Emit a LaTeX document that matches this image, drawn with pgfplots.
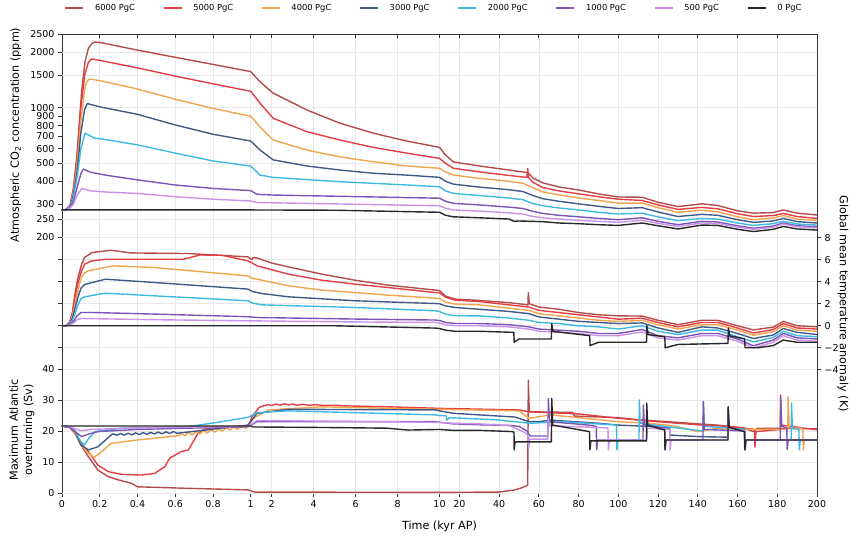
\documentclass[border=0pt]{standalone}
\usepackage{fontspec}
\setmainfont{DejaVu Sans}
\usepackage{pgfplots}
\pgfplotsset{compat=1.18}

\definecolor{c6000}{RGB}{180,76,76}
\definecolor{c5000}{RGB}{228,62,68}
\definecolor{c4000}{RGB}{240,165,78}
\definecolor{c3000}{RGB}{66,90,135}
\definecolor{c2000}{RGB}{62,186,226}
\definecolor{c1000}{RGB}{122,84,184}
\definecolor{c500}{RGB}{200,146,230}
\definecolor{c0}{RGB}{40,40,40}
\definecolor{spine}{RGB}{50,50,50}
\definecolor{gridc}{RGB}{232,232,232}

\pgfplotsset{
  s6000/.style={color=c6000},
  s5000/.style={color=c5000},
  s4000/.style={color=c4000},
  s3000/.style={color=c3000},
  s2000/.style={color=c2000},
  s1000/.style={color=c1000},
  s500/.style={color=c500},
  s0/.style={color=c0},
  panel/.style={
    scale only axis, width=755pt, xmin=0, xmax=4,
    hide x axis, clip=false,
    x filter/.expression={min(x,1)+(min(max(x,1),10)-1)/9+(max(x,10)-10)/95},
    axis line style={draw=spine, line width=0.8pt},
    every tick/.style={draw=spine, line width=0.8pt},
    major tick length=4pt, tick align=outside,
    yticklabel style={font=\fontsize{9.5}{11}\selectfont},
    grid style={draw=gridc, line width=0.6pt},
    every axis plot/.append style={line width=1.4pt, line join=round, line cap=round},
  },
}

\begin{document}
\begin{tikzpicture}
\path[use as bounding box] (0,0) rectangle (852pt,537pt);

% frame, x ticks, vertical grid, legend
\begin{axis}[
  at={(62pt,44pt)}, scale only axis, width=755pt, height=459pt,
  xmin=0, xmax=4, ymin=0, ymax=1, ytick=\empty,
  xtick={0,0.2,0.4,0.6,0.8,1,1.11111,1.33333,1.55556,1.77778,2,2.10526,2.31579,2.52632,2.73684,2.94737,3.15789,3.36842,3.57895,3.78947,4},
  xticklabels={0,0.2,0.4,0.6,0.8,1,2,4,6,8,10,20,40,60,80,100,120,140,160,180,200},
  xtick pos=bottom, tick align=outside, major tick length=4pt,
  xticklabel style={font=\fontsize{9.5}{11}\selectfont},
  axis line style={draw=spine, line width=0.8pt},
  every tick/.style={draw=spine, line width=0.8pt},
  xmajorgrids, grid style={draw=gridc, line width=0.6pt},
  legend columns=8,
  legend image code/.code={\draw[#1, line width=1.4pt] (0pt,0pt) -- (18pt,0pt);},
  legend style={at={(0.4927,1.0566)}, anchor=center, draw=none, fill=none,
    font=\fontsize{8.3}{10}\selectfont,
    /tikz/every even column/.append style={column sep=26pt},
    /tikz/every odd column/.append style={column sep=9pt}},
]
\addlegendimage{s6000}\addlegendentry{6000 PgC}
\addlegendimage{s5000}\addlegendentry{5000 PgC}
\addlegendimage{s4000}\addlegendentry{4000 PgC}
\addlegendimage{s3000}\addlegendentry{3000 PgC}
\addlegendimage{s2000}\addlegendentry{2000 PgC}
\addlegendimage{s1000}\addlegendentry{1000 PgC}
\addlegendimage{s500}\addlegendentry{500 PgC}
\addlegendimage{s0}\addlegendentry{0 PgC}
\end{axis}

% inward ticks on top spine
\begin{axis}[
  at={(62pt,44pt)}, scale only axis, width=755pt, height=459pt,
  xmin=0, xmax=4, ymin=0, ymax=1, ytick=\empty,
  xtick={0,0.2,0.4,0.6,0.8,1,1.11111,1.33333,1.55556,1.77778,2,2.10526,2.31579,2.52632,2.73684,2.94737,3.15789,3.36842,3.57895,3.78947,4},
  xticklabels={}, xtick pos=top, tick align=inside, major tick length=4pt,
  axis line style={draw=spine, line width=0.8pt},
  every tick/.style={draw=spine, line width=0.8pt},
]
\end{axis}

% ---------- CO2 ----------
\begin{axis}[panel, at={(62pt,300pt)}, height=203pt,
  ymode=log, ymin=200, ymax=2500, yminorticks=false,
  ytick={200,250,300,400,500,600,700,800,900,1000,1500,2000,2500},
  yticklabels={200,250,300,400,500,600,700,800,900,1000,1500,2000,2500},
  ytick pos=left,
  extra y ticks={250,500,1000,1500,2000}, extra y tick labels={},
  extra y tick style={grid=major},
]
\addplot[s6000] coordinates {(0,280) (0.02,281) (0.043,298) (0.06,366) (0.078,535) (0.104,1220) (0.122,1776) (0.14,2091) (0.16,2230) (0.175,2262) (0.2,2250) (0.4,2046) (0.6,1870) (0.8,1712) (1,1566) (1.44,1380) (2.07,1198) (3.67,972) (5.25,824) (6.84,728) (8.43,660) (10,610) (13,555) (17,509) (30,484) (45,460) (52,449) (54.5,445) (57,417) (62,392) (70,373) (80,359) (90,342) (100,329) (112,328) (120,308) (130,292) (142,302) (150,296) (160,277) (168,269) (178,271) (183,280) (190,269) (200,263)};
\addplot[s5000] coordinates {(0,280) (0.02,281) (0.043,296) (0.06,355) (0.078,500) (0.1,1000) (0.12,1500) (0.14,1760) (0.157,1834) (0.2,1800) (0.4,1640) (0.6,1480) (0.8,1345) (1,1225) (1.44,1057) (2.07,876) (3.67,742) (5.25,668) (6.84,610) (8.43,568) (10,532) (13,500) (17,470) (30,450) (45,430) (54,420) (54.4,470) (54.8,420) (57,395) (62,370) (70,355) (80,342) (90,330) (100,320) (112,315) (120,298) (130,282) (142,289) (150,284) (160,267) (168,258) (178,261) (183,268) (190,258) (200,252)};
\addplot[s4000] coordinates {(0,280) (0.02,281) (0.043,294) (0.06,345) (0.078,470) (0.1,850) (0.12,1250) (0.13,1380) (0.145,1428) (0.2,1400) (0.4,1260) (0.6,1110) (0.8,990) (1,898) (1.44,787) (2.07,668) (3.67,590) (5.25,542) (6.84,510) (8.43,484) (10,470) (13,450) (17,432) (30,415) (45,400) (52,390) (57,370) (62,350) (70,338) (80,325) (90,315) (100,305) (112,305) (120,288) (130,272) (142,279) (150,274) (160,257) (168,248) (178,253) (183,261) (190,250) (200,246)};
\addplot[s3000] coordinates {(0,280) (0.02,281) (0.043,292) (0.06,335) (0.08,450) (0.1,730) (0.12,980) (0.134,1052) (0.2,1010) (0.4,920) (0.6,806) (0.8,718) (1,660) (1.44,590) (2.07,522) (3.67,484) (5.25,460) (6.84,442) (8.43,432) (10,420) (13,400) (17,386) (30,372) (45,360) (52,352) (57,335) (62,322) (70,312) (80,302) (90,293) (100,285) (112,288) (120,273) (130,258) (142,265) (150,262) (160,248) (168,240) (178,244) (183,252) (190,242) (200,238)};
\addplot[s2000] coordinates {(0,280) (0.02,281) (0.043,290) (0.06,325) (0.08,420) (0.1,600) (0.122,728) (0.175,682) (0.2,680) (0.4,629) (0.6,568) (0.8,515) (1,483) (1.44,432) (2.07,420) (5.25,398) (8.43,382) (10,374) (13,355) (17,344) (30,335) (45,325) (52,318) (57,303) (62,295) (70,287) (80,280) (90,272) (100,266) (112,269) (120,257) (130,245) (142,252) (150,250) (160,238) (168,231) (178,236) (183,243) (190,235) (200,232)};
\addplot[s1000] coordinates {(0,280) (0.02,281) (0.04,287) (0.06,310) (0.08,370) (0.1,440) (0.113,466) (0.15,448) (0.228,432) (0.4,407) (0.6,382) (0.8,366) (1,356) (1.3,340) (2.07,337) (10,324) (13,312) (17,304) (30,298) (45,290) (52,285) (57,275) (62,268) (70,262) (80,257) (90,252) (100,248) (112,254) (120,243) (130,233) (142,243) (150,241) (160,230) (168,223) (178,229) (183,238) (190,230) (200,227)};
\addplot[s500] coordinates {(0,280) (0.02,281) (0.04,285) (0.06,300) (0.08,335) (0.1,360) (0.108,365) (0.15,355) (0.25,349) (0.4,344) (0.6,330) (0.8,320) (1,313) (1.3,307) (2.07,306) (10,295) (13,286) (17,280) (30,276) (45,270) (52,266) (57,258) (62,254) (70,250) (80,246) (90,243) (100,240) (112,246) (120,237) (130,228) (142,238) (150,237) (160,226) (168,220) (178,226) (183,235) (190,227) (200,224)};
\addplot[s0] coordinates {(0,280) (1,280) (5,279) (10,272) (13,262) (17,257) (30,254) (45,250) (47.5,243) (50,244) (62,242) (70,238) (80,236) (90,233) (100,231) (112,238) (120,230) (130,221) (142,232) (150,231) (160,220) (168,214) (178,220) (183,228) (190,221) (200,218)};
\end{axis}

% ---------- temperature ----------
\begin{axis}[panel, at={(62pt,167.2pt)}, height=132.1pt,
  ymin=-4, ymax=8,
  ytick={-4,-2,0,2,4,6,8},
  yticklabels={−4,−2,0,2,4,6,8},
  yticklabel pos=right, ytick pos=both,
  ymajorgrids,
]
\addplot[s6000] coordinates {(0,0) (0.02,0) (0.04,0.3) (0.055,1.2) (0.069,2.9) (0.085,4.4) (0.104,5.6) (0.12,6.2) (0.14,6.45) (0.16,6.65) (0.26,6.86) (0.32,6.72) (0.36,6.62) (0.67,6.56) (0.985,6.26) (1.05,6.0) (1.12,6.2) (1.3,6.15) (2,5.7) (2.79,5.35) (4.38,4.69) (5.97,4.14) (7.56,3.69) (9.8,3.24) (10,3.2) (13,2.7) (17.8,2.42) (30,2.3) (45,2.1) (54.5,1.9) (54.7,3.0) (55.2,2.0) (60,1.7) (70,1.5) (80,1.2) (90,1.0) (100,0.9) (112,0.88) (120,0.5) (130,0.1) (142,0.5) (150,0.5) (160,0.0) (168,-0.38) (178,-0.12) (183,0.4) (190,0.0) (200,-0.1)};
\addplot[s5000] coordinates {(0,0) (0.02,0) (0.04,0.3) (0.055,1.1) (0.069,2.6) (0.085,3.9) (0.104,5.0) (0.12,5.6) (0.157,5.89) (0.23,6.04) (0.64,6.04) (0.68,6.2) (0.73,6.43) (0.85,6.4) (0.985,5.89) (1.02,5.75) (1.3,5.45) (2.79,4.69) (4.38,4.14) (5.97,3.78) (7.56,3.47) (9.8,3.02) (10,3.0) (13,2.6) (17.8,2.33) (30,2.2) (45,1.9) (55,1.7) (60,1.4) (70,1.2) (80,1.0) (90,0.8) (100,0.6) (112,0.68) (120,0.3) (130,-0.1) (142,0.3) (150,0.3) (160,-0.2) (168,-0.66) (178,-0.34) (183,0.2) (190,-0.2) (200,-0.3)};
\addplot[s4000] coordinates {(0,0) (0.02,0) (0.04,0.25) (0.055,0.9) (0.069,2.0) (0.085,3.2) (0.1,4.3) (0.12,4.8) (0.14,5.0) (0.27,5.44) (0.49,5.29) (0.985,4.53) (1.1,4.3) (1.52,4.14) (2.79,3.63) (4.38,3.24) (5.97,3.02) (7.56,2.78) (9.8,2.51) (10,2.48) (13,2.15) (17.8,1.97) (30,1.9) (45,1.6) (55,1.4) (60,1.1) (70,0.9) (80,0.7) (90,0.5) (100,0.4) (112,0.48) (120,0.1) (130,-0.3) (142,0.1) (150,0.1) (160,-0.4) (168,-0.86) (178,-0.54) (183,0.0) (190,-0.4) (200,-0.5)};
\addplot[s3000] coordinates {(0,0) (0.02,0) (0.04,0.2) (0.055,0.7) (0.069,1.6) (0.085,2.6) (0.1,3.4) (0.12,3.75) (0.14,3.84) (0.23,4.23) (0.49,3.93) (0.985,3.33) (1.1,3.1) (1.52,2.93) (2.79,2.63) (5.97,2.27) (9.8,2.02) (10,2.0) (13,1.8) (17.8,1.66) (30,1.5) (45,1.3) (55,1.1) (60,0.8) (70,0.6) (80,0.4) (90,0.3) (100,0.2) (112,0.26) (120,-0.2) (130,-0.6) (142,-0.1) (150,-0.2) (160,-0.7) (168,-1.16) (178,-0.84) (183,-0.25) (190,-0.6) (200,-0.8)};
\addplot[s2000] coordinates {(0,0) (0.02,0) (0.04,0.15) (0.055,0.5) (0.069,1.1) (0.085,1.9) (0.1,2.45) (0.12,2.63) (0.23,2.96) (0.49,2.72) (0.985,2.27) (1.1,2.05) (1.52,1.9) (5.97,1.66) (9.8,1.36) (10,1.3) (13,1.05) (17.8,0.91) (30,0.9) (45,0.7) (55,0.5) (60,0.3) (70,0.2) (80,0.0) (90,-0.1) (100,-0.3) (112,0.0) (120,-0.5) (130,-0.8) (142,-0.4) (150,-0.4) (160,-1.0) (168,-1.46) (178,-1.06) (183,-0.5) (190,-0.9) (200,-1.0)};
\addplot[s1000] coordinates {(0,0) (0.02,0) (0.04,0.1) (0.06,0.4) (0.08,0.9) (0.1,1.2) (0.15,1.21) (0.49,1.06) (0.985,0.82) (1.3,0.75) (5.97,0.61) (9.8,0.52) (10,0.48) (13,0.3) (17.8,0.21) (30,0.2) (45,0.1) (55,-0.1) (60,-0.3) (70,-0.4) (80,-0.5) (90,-0.7) (100,-0.7) (112,-0.34) (120,-0.9) (130,-1.1) (142,-0.7) (150,-0.7) (160,-1.2) (168,-1.82) (178,-1.3) (183,-0.7) (190,-1.1) (200,-1.2)};
\addplot[s500] coordinates {(0,0) (0.02,0) (0.04,0.05) (0.06,0.25) (0.08,0.55) (0.1,0.66) (0.49,0.55) (0.985,0.45) (5.97,0.35) (9.8,0.3) (10,0.25) (13,0.1) (17.8,0.0) (30,0.0) (45,-0.1) (55,-0.3) (60,-0.5) (70,-0.6) (80,-0.7) (90,-0.9) (100,-0.9) (112,-0.56) (120,-1.1) (130,-1.3) (142,-0.9) (150,-0.9) (160,-1.4) (168,-2.02) (178,-1.5) (183,-0.9) (190,-1.3) (200,-1.4)};
\addplot[s0] coordinates {(0,0) (5,0) (9.8,-0.21) (10,-0.25) (13,-0.4) (17.8,-0.5) (30,-0.5) (47.4,-0.6) (47.6,-1.5) (50,-1.2) (66.3,-1.2) (66.5,0.2) (67,-0.5) (85.6,-0.9) (85.8,-1.8) (90,-1.5) (114.2,-1.5) (114.4,0) (115,-0.8) (123.4,-1.0) (123.6,-2.0) (130,-1.7) (155.2,-1.6) (155.4,-0.2) (156,-0.9) (163.6,-1.2) (163.8,-2.0) (170,-2.0) (178,-1.8) (183,-1.3) (190,-1.5) (200,-1.5)};
\end{axis}

% ---------- AMOC ----------
\begin{axis}[panel, at={(62pt,44pt)}, height=124pt,
  ymin=0, ymax=40,
  ytick={0,10,20,30,40}, yticklabels={0,10,20,30,40},
  ytick pos=left, ymajorgrids,
]
\addplot[s6000] coordinates {(0,21.6) (0.04,21.2) (0.069,19.2) (0.1,15.5) (0.14,11.7) (0.19,7.4) (0.245,5.3) (0.3,4.2) (0.37,3.1) (0.4,2.0) (0.67,1.5) (0.985,1.0) (1.2,0.3) (10,0.2) (40,0.3) (48,1.0) (52,1.8) (54.4,2.5) (54.7,36.4) (55.2,26.2) (77,26.0) (78,24.8) (100,24.3) (110,23.6) (125,23.0) (140,22.3) (150,21.9) (163,21.0) (168,19.8) (170,20.9) (200,20.7)};
\addplot[s5000] coordinates {(0,21.6) (0.04,21.3) (0.069,19.2) (0.1,16.0) (0.14,13.3) (0.19,9.0) (0.245,6.9) (0.316,6.0) (0.42,5.8) (0.49,6.3) (0.545,8.5) (0.57,11.2) (0.63,13.3) (0.67,13.9) (0.68,15.0) (0.72,19.2) (0.76,20.9) (0.985,21.3) (1.06,24.6) (1.4,27.6) (1.6,28.1) (1.84,28.5) (2.0,28.2) (2.2,28.7) (2.4,28.3) (2.6,28.8) (2.8,28.4) (3.0,28.7) (3.2,28.3) (3.5,28.6) (3.8,28.3) (4.1,28.5) (4.38,28.3) (5.0,28.3) (5.5,28.1) (7.56,27.8) (10,27.3) (50,26.8) (55,26.2) (80,25.5) (100,24.1) (120,23.0) (140,22.0) (155,21.5) (168.5,20.5) (168.8,14.8) (169.3,19.8) (181.5,20.5) (181.7,31.6) (182.2,21.9) (200,20.4)};
\addplot[s4000] coordinates {(0,21.6) (0.04,21.3) (0.069,19.2) (0.1,15.5) (0.14,12.8) (0.17,11.5) (0.21,13.3) (0.26,16.0) (0.4,17.1) (0.62,18.5) (0.63,19.18) (0.65,18.43) (0.67,19.49) (0.69,18.74) (0.71,19.79) (0.73,19.05) (0.75,20.1) (0.77,19.36) (0.79,20.41) (0.81,19.66) (0.83,20.72) (0.85,19.97) (0.87,21.03) (0.89,20.28) (0.91,21.33) (0.93,20.59) (0.95,21.64) (0.97,20.9) (0.985,21.3) (1.1,24.0) (1.84,26.8) (4.38,27.8) (10,27.0) (50,26.5) (55,24.1) (60,24.6) (66,25.2) (100,23.0) (115,22.5) (125,21.9) (133,20.9) (140,19.8) (150,20.9) (160,20.5) (185.3,20.5) (185.5,31.0) (186,21.0) (192.9,20.9) (193.1,13.9) (193.6,17.1) (200,17.1)};
\addplot[s3000] coordinates {(0,21.6) (0.04,21.3) (0.069,19.8) (0.1,15.5) (0.14,13.9) (0.19,14.9) (0.26,18.7) (0.27,19.1) (0.29,18.6) (0.31,19.2) (0.33,18.65) (0.35,19.3) (0.37,18.74) (0.39,19.4) (0.41,18.83) (0.43,19.47) (0.45,18.92) (0.47,19.56) (0.49,19.0) (0.51,19.65) (0.53,19.1) (0.55,19.74) (0.57,19.18) (0.59,19.83) (0.61,19.27) (0.76,20.3) (0.985,21.9) (1.3,25.7) (2.79,27.0) (9.8,26.8) (10,26.5) (17,25.7) (30,25.2) (48,24.5) (55,23.0) (60,23.0) (66,23.5) (90,22.5) (100,21.9) (115,21.5) (125.8,20.9) (126,18.7) (140,18.2) (155.1,18.0) (155.3,27.3) (155.8,20.9) (163.5,20.5) (163.7,13.9) (164.2,17.1) (200,17.1)};
\addplot[s2000] coordinates {(0,21.6) (0.04,21.3) (0.069,20.1) (0.1,16.5) (0.12,15.5) (0.14,17.5) (0.175,19.8) (0.316,20.9) (0.67,21.4) (0.845,23.0) (0.985,24.4) (1.3,25.9) (2.79,26.5) (9.8,25.2) (10,25.0) (13.4,24.9) (13.6,23.5) (15,24.3) (22,24.1) (38.8,23.6) (55.5,22.5) (72,23.0) (99.1,21.9) (99.3,13.9) (99.8,17.1) (110.4,17.1) (110.6,30.0) (111,22.5) (123,21.5) (142.6,20.0) (142.8,29.5) (143.2,21.5) (155,21.0) (163.4,20.5) (163.6,14.5) (164,17.1) (187,17.1) (187.2,29.0) (187.6,21.0) (190.9,20.5) (191.1,13.9) (191.6,17.1) (200,17.1)};
\addplot[s1000] coordinates {(0,21.6) (0.04,21.2) (0.069,19.8) (0.104,18.2) (0.14,19.0) (0.19,19.8) (0.4,20.5) (0.985,21.4) (1.3,23.0) (9.8,23.0) (17,22.3) (30,22.0) (45,21.8) (50,21.5) (54,20.0) (55.5,18.4) (64.6,18.4) (64.8,30.5) (65.3,23.0) (85,21.9) (88.9,21.5) (89.1,13.9) (89.6,17.1) (112.4,17.1) (112.6,28.4) (113.1,22.0) (123.3,20.9) (123.5,13.9) (124,17.1) (142.6,17.1) (142.8,29.5) (143.3,20.5) (163.5,20.0) (163.7,14.0) (164.2,17.1) (181.5,17.1) (181.7,31.0) (182.2,21.5) (184.8,21.0) (185,14.0) (185.5,17.1) (200,17.1)};
\addplot[s500] coordinates {(0,21.6) (0.04,21.4) (0.08,20.5) (0.1,20.1) (0.15,20.5) (0.4,21.0) (0.985,21.5) (1.3,23.4) (9.8,22.8) (17,22.5) (30,22.3) (45,21.8) (52,19.8) (54.8,18.7) (55,14.8) (55.4,17.4) (64.5,17.4) (64.8,24.0) (65.3,21.7) (94.8,21.0) (95,13.9) (95.5,17.1) (114.3,17.1) (114.6,20.9) (125.9,20.5) (126.1,13.9) (126.6,17.1) (155.1,17.1) (155.3,27.8) (155.8,20.9) (163.8,20.0) (164,14.0) (164.5,17.1) (200,17.1)};
\addplot[s0] coordinates {(0,21.6) (1,21.6) (1.1,21.3) (5,21.1) (7.5,20.9) (8.5,20.3) (10,20.5) (17,20.2) (30,20.2) (47,19.8) (47.5,19.5) (47.6,13.9) (48,16.5) (66.3,16.5) (66.5,30.5) (67,21.9) (85.5,19.8) (85.7,13.9) (86.2,16.8) (114.2,16.8) (114.3,29.0) (114.8,21.9) (123.4,20.3) (123.5,13.9) (124,17.1) (155.2,17.1) (155.3,27.8) (155.8,21.2) (163.6,19.8) (163.7,13.9) (164.2,17.1) (200,17.1)};
\end{axis}

% axis labels
\node[rotate=90, font=\fontsize{11.2}{13.4}\selectfont] at (15.7pt,402pt) {Atmospheric CO\textsubscript{2} concentration (ppm)};
\node[rotate=90, align=center, font=\fontsize{11.2}{14.3}\selectfont] at (22pt,107pt) {Maximum Atlantic\\overturning (Sv)};
\node[rotate=-90, font=\fontsize{11.2}{13.4}\selectfont] at (843pt,233.3pt) {Global mean temperature anomaly (K)};
\node[font=\fontsize{11.2}{13.4}\selectfont] at (439.5pt,10.5pt) {Time (kyr AP)};
\end{tikzpicture}
\end{document}
